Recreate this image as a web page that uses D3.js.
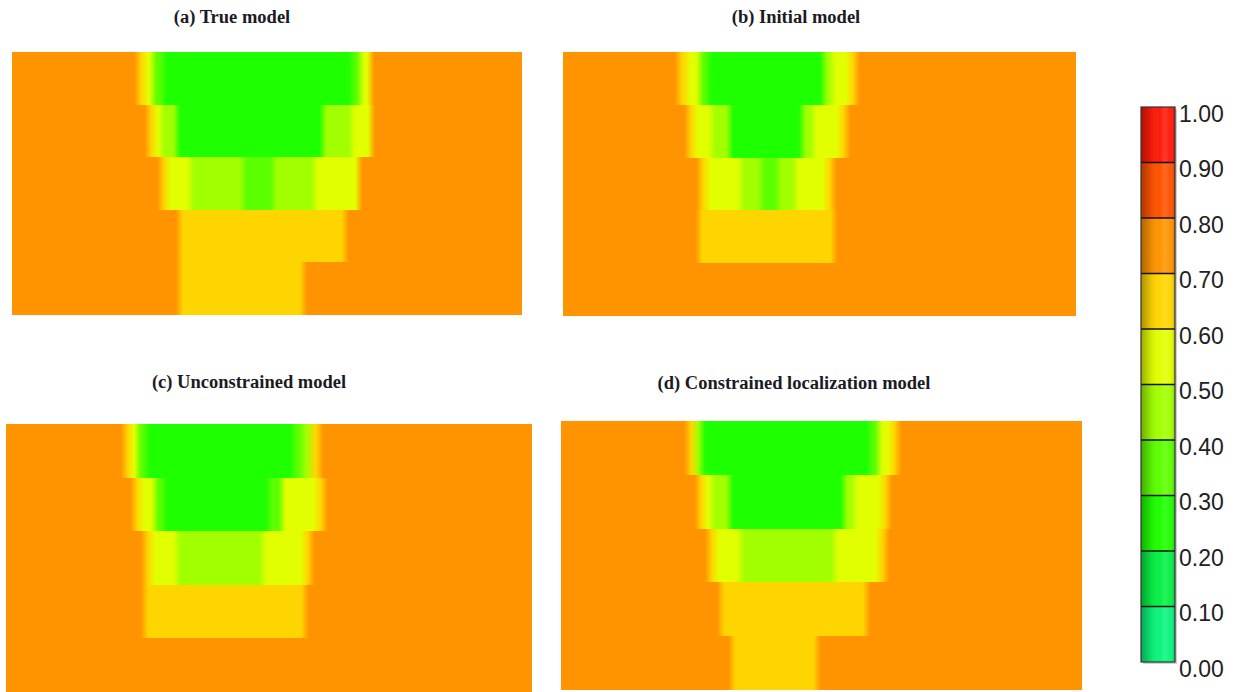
<!DOCTYPE html>
<html>
<head>
<meta charset="utf-8">
<script src="https://cdn.jsdelivr.net/npm/d3@7"></script>
<style>
  html, body { margin: 0; padding: 0; background: #ffffff; }
  svg { display: block; }
</style>
</head>
<body>
<svg id="chart" width="1238" height="692"></svg>
<script>
// Model grid: 60 columns across, 5 layers down.
// Each layer is a run of [fromColumn, toColumn, value] cells.
const nCols = 60;
const layerIds = [0, 1, 2, 3, 4];

const trueModel = [
  [[0, 14.8, 0.75], [14.8, 15.6, 0.65], [15.6, 16.6, 0.55], [16.6, 17.8, 0.35], [17.8, 40, 0.25], [40, 41, 0.35], [41, 42.2, 0.55], [42.2, 60, 0.75]],
  [[0, 16, 0.75], [16, 16.8, 0.65], [16.8, 17.6, 0.55], [17.6, 19.4, 0.45], [19.4, 36.6, 0.25], [36.6, 40, 0.45], [40, 42.3, 0.55], [42.3, 60, 0.75]],
  [[0, 17.5, 0.75], [17.5, 18.3, 0.65], [18.3, 21, 0.55], [21, 27.2, 0.45], [27.2, 30.8, 0.35], [30.8, 35.6, 0.45], [35.6, 40.8, 0.55], [40.8, 60, 0.75]],
  [[0, 19.7, 0.75], [19.7, 39.2, 0.65], [39.2, 60, 0.75]],
  [[0, 19.7, 0.75], [19.7, 34.3, 0.65], [34.3, 60, 0.75]]
];

const initialModel = [
  [[0, 13.5, 0.75], [13.5, 14.5, 0.65], [14.5, 16, 0.55], [16, 17, 0.35], [17, 30.5, 0.25], [30.5, 31.5, 0.45], [31.5, 33.5, 0.55], [33.5, 34.3, 0.65], [34.3, 60, 0.75]],
  [[0, 14.6, 0.75], [14.6, 15.4, 0.65], [15.4, 17.4, 0.55], [17.4, 19.5, 0.45], [19.5, 28, 0.25], [28, 29.3, 0.45], [29.3, 32.4, 0.55], [32.4, 33.2, 0.65], [33.2, 60, 0.75]],
  [[0, 16, 0.75], [16, 16.8, 0.65], [16.8, 20.8, 0.55], [20.8, 23.2, 0.45], [23.2, 25.2, 0.35], [25.2, 27.2, 0.45], [27.2, 30.8, 0.55], [30.8, 31.6, 0.65], [31.6, 60, 0.75]],
  [[0, 15.9, 0.75], [15.9, 31.7, 0.65], [31.7, 60, 0.75]],
  [[0, 60, 0.75]]
];

const unconstrainedModel = [
  [[0, 13.5, 0.75], [13.5, 14.3, 0.65], [14.3, 15, 0.55], [15, 16, 0.35], [16, 32.8, 0.25], [32.8, 33.8, 0.35], [33.8, 34.8, 0.45], [34.8, 35.8, 0.65], [35.8, 60, 0.75]],
  [[0, 14.6, 0.75], [14.6, 15.3, 0.65], [15.3, 17, 0.55], [17, 18, 0.35], [18, 30, 0.25], [30, 31.5, 0.35], [31.5, 35.5, 0.55], [35.5, 36.3, 0.65], [36.3, 60, 0.75]],
  [[0, 15.8, 0.75], [15.8, 16.6, 0.65], [16.6, 19.5, 0.55], [19.5, 29.3, 0.45], [29.3, 34, 0.55], [34, 34.8, 0.65], [34.8, 60, 0.75]],
  [[0, 15.8, 0.75], [15.8, 34.1, 0.65], [34.1, 60, 0.75]],
  [[0, 60, 0.75]]
];

const constrainedModel = [
  [[0, 14.6, 0.75], [14.6, 15.4, 0.65], [15.4, 16.2, 0.45], [16.2, 35.6, 0.25], [35.6, 36.6, 0.35], [36.6, 38, 0.55], [38, 38.8, 0.65], [38.8, 60, 0.75]],
  [[0, 15.8, 0.75], [15.8, 16.5, 0.65], [16.5, 17.4, 0.55], [17.4, 19.4, 0.45], [19.4, 32.6, 0.25], [32.6, 33.8, 0.45], [33.8, 37, 0.55], [37, 37.7, 0.65], [37.7, 60, 0.75]],
  [[0, 17, 0.75], [17, 17.8, 0.65], [17.8, 20.7, 0.55], [20.7, 31.5, 0.45], [31.5, 36.6, 0.55], [36.6, 37.4, 0.65], [37.4, 60, 0.75]],
  [[0, 18.4, 0.75], [18.4, 35.2, 0.65], [35.2, 60, 0.75]],
  [[0, 19.7, 0.75], [19.7, 29.5, 0.65], [29.5, 60, 0.75]]
];

const panelTitles = ["(a) True model", "(b) Initial model", "(c) Unconstrained model", "(d) Constrained localization model"];

// Colour bar: ten classes of 0.1
const classBreaks = [0.1, 0.2, 0.3, 0.4, 0.5, 0.6, 0.7, 0.8, 0.9];
const classColors = ["#0af57c", "#06f046", "#1eff00", "#5cff00", "#a2ff00", "#e2ff00", "#ffd500", "#ff9400", "#ff5200", "#ff1a0a"];
const tickValues = [0, 0.1, 0.2, 0.3, 0.4, 0.5, 0.6, 0.7, 0.8, 0.9, 1.0];

const color = d3.scaleThreshold().domain(classBreaks).range(classColors);

const svg = d3.select("#chart");
const defs = svg.append("defs");

// panel frames on the page
const panels = [
  { id: "a", data: trueModel,          x: 12,  y: 52,  w: 510, h: 263, tx: 232, ty: 23 },
  { id: "b", data: initialModel,       x: 563, y: 52,  w: 513, h: 264, tx: 796, ty: 23 },
  { id: "c", data: unconstrainedModel, x: 6,   y: 424, w: 526, h: 268, tx: 249, ty: 388 },
  { id: "d", data: constrainedModel,   x: 561, y: 421, w: 521, h: 269, tx: 794, ty: 389 }
];

const blend = 0.42; // soft edge between neighbouring cells, in columns

panels.forEach((p, pi) => {
  const x = d3.scaleLinear().domain([0, nCols]).range([0, p.w]);
  const y = d3.scaleLinear().domain([0, layerIds.length]).range([0, p.h]);

  const g = svg.append("g").attr("transform", `translate(${p.x},${p.y})`);

  p.data.forEach((row, ri) => {
    const gid = `grad-${p.id}-${ri}`;
    const stops = [];
    row.forEach((seg, si) => {
      const [a, b, v] = seg;
      const c = color(v);
      if (b - a > 2 * blend) {
        stops.push({ o: si === 0 ? a : a + blend, c });
        stops.push({ o: si === row.length - 1 ? b : b - blend, c });
      } else {
        stops.push({ o: (a + b) / 2, c });
      }
    });
    const grad = defs.append("linearGradient")
      .attr("id", gid)
      .attr("x1", 0).attr("x2", 1).attr("y1", 0).attr("y2", 0);
    grad.selectAll("stop").data(stops).join("stop")
      .attr("offset", d => (x(d.o) / p.w * 100).toFixed(3) + "%")
      .attr("stop-color", d => d.c);

    const y0 = Math.round(y(ri)), y1 = Math.round(y(ri + 1));
    g.append("rect")
      .attr("x", x(0))
      .attr("y", y0)
      .attr("width", x(nCols) - x(0))
      .attr("height", y1 - y0)
      .attr("shape-rendering", "crispEdges")
      .attr("fill", `url(#${gid})`);
  });

  svg.append("text")
    .attr("x", p.tx)
    .attr("y", p.ty)
    .attr("text-anchor", "middle")
    .attr("font-family", "'Liberation Serif', 'DejaVu Serif', serif")
    .attr("font-weight", "bold")
    .attr("font-size", 18.5)
    .attr("fill", "#1b1b24")
    .text(panelTitles[pi]);
});

// ---- colour bar ----
const cb = { x: 1141, w: 34, top: 107, bottom: 662 };
const cy = d3.scaleLinear().domain([0, 1]).range([cb.bottom, cb.top]);

const shade = defs.append("linearGradient").attr("id", "cb-shade")
  .attr("x1", 0).attr("x2", 1).attr("y1", 0).attr("y2", 0);
[
  { o: "0%", c: "#000", a: 0.32 },
  { o: "25%", c: "#000", a: 0.12 },
  { o: "55%", c: "#fff", a: 0.0 },
  { o: "70%", c: "#fff", a: 0.14 },
  { o: "85%", c: "#fff", a: 0.02 },
  { o: "100%", c: "#000", a: 0.22 }
].forEach(s => shade.append("stop").attr("offset", s.o).attr("stop-color", s.c).attr("stop-opacity", s.a));

const cbg = svg.append("g");

// soft drop shadow
cbg.append("rect")
  .attr("x", cb.x + 2).attr("y", cy(1) + 2)
  .attr("width", cb.w).attr("height", cy(0) - cy(1))
  .attr("fill", "#cfcfcf");

const bins = d3.range(10).map(i => ({ lo: tickValues[i], hi: tickValues[i + 1] }));
cbg.selectAll("rect.bin").data(bins).join("rect")
  .attr("class", "bin")
  .attr("x", cb.x)
  .attr("y", d => cy(d.hi))
  .attr("width", cb.w)
  .attr("height", d => cy(d.lo) - cy(d.hi))
  .attr("fill", d => color((d.lo + d.hi) / 2));

cbg.append("rect")
  .attr("x", cb.x).attr("y", cy(1))
  .attr("width", cb.w).attr("height", cy(0) - cy(1))
  .attr("fill", "url(#cb-shade)");

cbg.selectAll("line.sep").data(tickValues.slice(1, -1)).join("line")
  .attr("class", "sep")
  .attr("x1", cb.x).attr("x2", cb.x + cb.w)
  .attr("y1", d => cy(d)).attr("y2", d => cy(d))
  .attr("stroke", "#111").attr("stroke-width", 1.5);

cbg.append("rect")
  .attr("x", cb.x).attr("y", cy(1))
  .attr("width", cb.w).attr("height", cy(0) - cy(1))
  .attr("fill", "none").attr("stroke", "#333").attr("stroke-width", 1.2);

cbg.selectAll("text.tick").data(tickValues).join("text")
  .attr("class", "tick")
  .attr("x", cb.x + cb.w + 4)
  .attr("y", d => cy(d) + 6.5)
  .attr("dy", "0.35em")
  .attr("font-family", "'Liberation Sans', Arial, sans-serif")
  .attr("font-size", 23)
  .attr("fill", "#222")
  .text(d => d3.format(".2f")(d));
</script>
</body>
</html>
